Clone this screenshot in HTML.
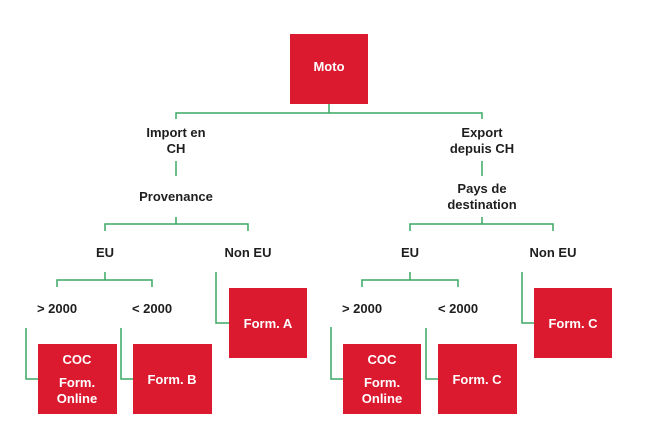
<!DOCTYPE html>
<html><head><style>
body{margin:0;background:#fff;}
svg{display:block}
text{font-family:"Liberation Sans",sans-serif;font-weight:bold;font-size:13px;text-anchor:middle;fill:#1e1e1e}
.w{fill:#fff}
</style></head><body>
<svg width="672" height="441" viewBox="0 0 672 441">
<g fill="#dc1a2f">
<rect x="290" y="34" width="78" height="70"/>
<rect x="38" y="344" width="79" height="70"/>
<rect x="133" y="344" width="79" height="70"/>
<rect x="229" y="288" width="78" height="70"/>
<rect x="343" y="344" width="78" height="70"/>
<rect x="438" y="344" width="79" height="70"/>
<rect x="534" y="288" width="78" height="70"/>
</g>
<g stroke="#3aa864" stroke-width="1.5" fill="none">
<path d="M329 104V113M176 119V113H482V119"/>
<path d="M176 161V176"/>
<path d="M176 217V224M105 231V224H248V231"/>
<path d="M105 272V280M57 287V280H152V287"/>
<path d="M26 328V379H38M121 328V379H133M216 272V323H229"/>
<path d="M482 161V176"/>
<path d="M482 217V224M410 231V224H553V231"/>
<path d="M410 272V280M362 287V280H458V287"/>
<path d="M331 327V379H343M426 328V379H438M522 272V323H534"/>
</g>
<text class="w" x="329" y="71">Moto</text>
<text x="176" y="137">Import en</text>
<text x="176" y="153">CH</text>
<text x="176" y="201">Provenance</text>
<text x="105" y="257">EU</text>
<text x="248" y="257">Non EU</text>
<text x="57" y="313">&gt; 2000</text>
<text x="152" y="313">&lt; 2000</text>
<text class="w" x="77" y="364">COC</text>
<text class="w" x="77" y="387">Form.</text>
<text class="w" x="77" y="403">Online</text>
<text class="w" x="172" y="384">Form. B</text>
<text class="w" x="268" y="328">Form. A</text>
<text x="482" y="137">Export</text>
<text x="482" y="153">depuis CH</text>
<text x="482" y="193">Pays de</text>
<text x="482" y="209">destination</text>
<text x="410" y="257">EU</text>
<text x="553" y="257">Non EU</text>
<text x="362" y="313">&gt; 2000</text>
<text x="458" y="313">&lt; 2000</text>
<text class="w" x="382" y="364">COC</text>
<text class="w" x="382" y="387">Form.</text>
<text class="w" x="382" y="403">Online</text>
<text class="w" x="477" y="384">Form. C</text>
<text class="w" x="573" y="328">Form. C</text>
</svg>
</body></html>
